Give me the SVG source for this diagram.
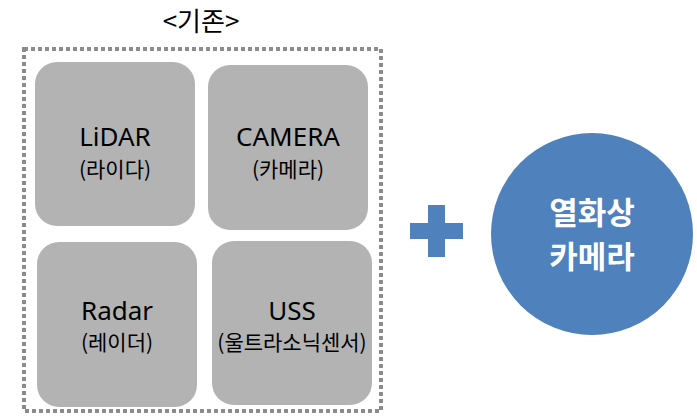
<svg xmlns="http://www.w3.org/2000/svg" width="697" height="416" viewBox="0 0 697 416">
<style>
.box{fill:#b3b3b3}
.t1{font-family:"Noto Sans","Noto Sans CJK KR",sans-serif;font-size:26px;fill:#000;text-anchor:middle}
.t2{font-family:"Noto Sans CJK KR","Noto Sans",sans-serif;font-size:21px;fill:#000;text-anchor:middle}
.w{font-family:"Noto Sans CJK KR",sans-serif;font-size:31px;font-weight:bold;fill:#fff;text-anchor:middle}
</style>
<rect width="697" height="416" fill="#fff"/>
<text x="201" y="31" class="t2" style="font-size:26px">&lt;기존&gt;</text>
<rect x="24" y="49" width="357" height="362" fill="none" stroke="#8c8c8c" stroke-width="4" stroke-dasharray="4 3"/>
<g id="lidar">
<rect class="box" x="35" y="62" width="160" height="164" rx="22"/>
<text class="t1" x="115" y="146">LiDAR</text>
<text class="t2" x="115" y="177">(라이다)</text>
</g>
<g id="camera">
<rect class="box" x="208" y="65" width="160" height="165" rx="22"/>
<text class="t1" x="288" y="146">CAMERA</text>
<text class="t2" x="288" y="177">(카메라)</text>
</g>
<g id="radar">
<rect class="box" x="37" y="242" width="160" height="165" rx="22"/>
<text class="t1" x="117" y="320">Radar</text>
<text class="t2" x="117" y="350">(레이더)</text>
</g>
<g id="uss">
<rect class="box" x="212" y="241" width="160" height="164" rx="22"/>
<text class="t1" x="292" y="320">USS</text>
<text class="t2" x="292" y="350">(울트라소닉센서)</text>
</g>
<g id="plus">
<rect x="410" y="223" width="53" height="16" fill="#4f81bd"/>
<rect x="428" y="205" width="17" height="52" fill="#4f81bd"/>
</g>
<g id="thermal">
<circle cx="592" cy="234" r="101" fill="#4f81bd"/>
<text class="w" x="592" y="224">열화상</text>
<text class="w" x="592" y="268">카메라</text>
</g>
<g id="connectors"></g>
</svg>
